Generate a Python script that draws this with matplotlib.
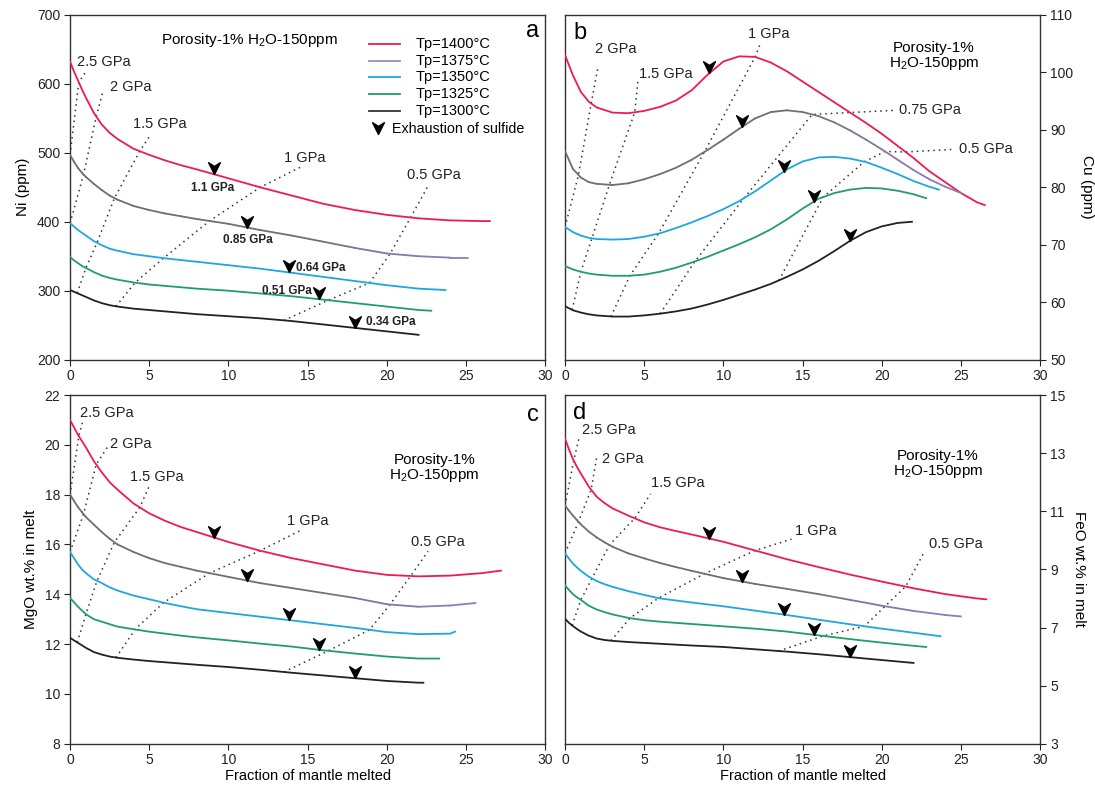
import numpy as np
import matplotlib
matplotlib.use("Agg")
import matplotlib.pyplot as plt
from matplotlib.path import Path
from matplotlib.collections import LineCollection
from matplotlib.colors import to_rgb

plt.rcParams['font.family'] = ['Liberation Sans', 'DejaVu Sans']
plt.rcParams['mathtext.default'] = 'regular'

## data --------------------------------------------------------------
TP_LABELS = ["Tp=1400°C", "Tp=1375°C", "Tp=1350°C", "Tp=1325°C", "Tp=1300°C"]

F_GRID = [0, 0.25, 0.5, 0.75, 1, 1.5, 2, 2.5, 3, 4, 5, 6, 7, 8, 10, 12, 14, 16, 18, 20, 22, 24, 26]
F_GRID_B = [0, 0.5, 1, 1.5, 2] + list(range(3, 27))

# Ni (ppm), panel a
NI = [
    [632, 618, 605, 592, 580, 558, 541, 529, 520, 506, 497, 489, 482, 476, 463, 450, 438, 426, 417, 410, 405, 402, 401],
    [497, 487, 478, 471, 465, 455, 446, 438, 432, 423, 417, 412, 408, 404, 397, 388, 380, 371, 362, 354, 350, 348],
    [398, 393, 388, 384, 380, 372, 366, 361, 358, 353, 350, 347, 344.5, 342, 337, 332, 326, 320, 314, 308, 303],
    [349, 344, 340, 336, 333, 327, 322, 318.5, 316, 312, 309, 307, 305, 303, 300, 296, 292, 287, 282, 277, 272],
    [301, 298.5, 296, 293.5, 291, 286, 282, 279, 277, 274, 272, 270, 268, 266, 263, 260, 256, 251, 246, 241],
]
NI_END = [(26.5, 401), (25.1, 348), (23.7, 301), (22.8, 271), (22.0, 236)]

# Cu (ppm), panel b
CU = [
    [103.0, 99.5, 96.6, 94.9, 93.9, 93.0, 92.9, 93.3, 94.0, 95.1, 96.9, 99.6, 101.9, 102.8, 102.7,
     101.7, 100.2, 98.4, 96.6, 94.8, 93.0, 91.2, 89.3, 87.2, 85.1, 82.8, 80.9, 79.0, 77.4],
    [86.3, 83.2, 81.7, 80.9, 80.6, 80.4, 80.7, 81.4, 82.3, 83.4, 84.8, 86.5, 88.3, 90.2, 92.0,
     93.1, 93.4, 93.1, 92.4, 91.3, 89.9, 88.3, 86.6, 84.8, 83.0, 81.4, 80.1],
    [73.1, 72.2, 71.6, 71.2, 71.0, 70.9, 71.0, 71.4, 72.0, 72.9, 73.9, 75.0, 76.2, 77.6, 79.3,
     81.2, 83.1, 84.5, 85.2, 85.3, 85.0, 84.4, 83.4, 82.3, 81.1, 80.1],
    [66.3, 65.7, 65.3, 65.0, 64.8, 64.6, 64.6, 64.8, 65.3, 66.0, 66.9, 67.9, 69.0, 70.1, 71.3,
     72.7, 74.4, 76.3, 78.0, 79.0, 79.6, 79.9, 79.8, 79.4, 78.8],
    [59.3, 58.6, 58.2, 57.9, 57.7, 57.5, 57.5, 57.7, 58.0, 58.4, 58.9, 59.6, 60.4, 61.3, 62.2,
     63.2, 64.4, 65.7, 67.2, 68.9, 70.7, 72.2, 73.2, 73.8],
]
CU_END = [(26.5, 76.9), (25.0, 79.0), (23.6, 79.6), (22.8, 78.1), (21.9, 74.0)]

# MgO wt.%, panel c
MGO = [
    [21.0, 20.7, 20.4, 20.15, 19.9, 19.35, 18.9, 18.5, 18.2, 17.65, 17.25, 16.95, 16.7, 16.5, 16.1,
     15.75, 15.45, 15.2, 14.95, 14.78, 14.72, 14.75, 14.85],
    [18.0, 17.75, 17.5, 17.3, 17.1, 16.8, 16.5, 16.23, 16.0, 15.7, 15.45, 15.25, 15.1, 14.95, 14.7,
     14.45, 14.25, 14.05, 13.85, 13.6, 13.5, 13.55],
    [15.7, 15.45, 15.2, 15.0, 14.85, 14.6, 14.45, 14.28, 14.15, 13.95, 13.8, 13.65, 13.52, 13.4, 13.25,
     13.1, 12.95, 12.8, 12.65, 12.48, 12.4, 12.42],
    [13.85, 13.68, 13.5, 13.35, 13.2, 13.0, 12.9, 12.8, 12.7, 12.6, 12.5, 12.42, 12.34, 12.27, 12.15,
     12.02, 11.9, 11.75, 11.62, 11.5, 11.42],
    [12.25, 12.15, 12.05, 11.95, 11.85, 11.68, 11.58, 11.5, 11.45, 11.38, 11.32, 11.27, 11.22, 11.17, 11.08,
     10.97, 10.85, 10.74, 10.63, 10.52, 10.45],
]
MGO_END = [(27.2, 14.95), (25.6, 13.65), (24.3, 12.5), (23.3, 11.42), (22.3, 10.45)]

# FeO wt.%, panel d
FEO = [
    [13.5, 13.13, 12.8, 12.53, 12.3, 11.85, 11.5, 11.28, 11.1, 10.85, 10.62, 10.45, 10.32, 10.2, 9.95,
     9.65, 9.35, 9.08, 8.82, 8.58, 8.35, 8.15, 8.0],
    [11.2, 11.02, 10.85, 10.7, 10.55, 10.3, 10.1, 9.93, 9.78, 9.55, 9.38, 9.22, 9.08, 8.95, 8.7,
     8.5, 8.33, 8.15, 7.95, 7.75, 7.57, 7.43],
    [9.55, 9.37, 9.2, 9.07, 8.95, 8.75, 8.6, 8.49, 8.4, 8.25, 8.12, 8.0, 7.93, 7.86, 7.73,
     7.58, 7.43, 7.27, 7.11, 6.96, 6.82],
    [8.45, 8.29, 8.15, 8.04, 7.95, 7.75, 7.62, 7.53, 7.45, 7.33, 7.25, 7.2, 7.16, 7.12, 7.04,
     6.96, 6.86, 6.73, 6.6, 6.48, 6.37],
    [7.3, 7.16, 7.05, 6.95, 6.86, 6.72, 6.62, 6.57, 6.54, 6.5, 6.47, 6.44, 6.41, 6.38, 6.33,
     6.25, 6.17, 6.08, 5.98, 5.88],
]
FEO_END = [(26.6, 7.97), (25.0, 7.38), (23.7, 6.7), (22.8, 6.33), (22.0, 5.78)]

# melt fraction where each Tp curve crosses an isobar (1400 -> 1300)
ISOBAR_F = {
    "2.5 GPa": [0.55, 0.0],
    "2 GPa": [1.65, 0.85, 0.0],
    "1.5 GPa": [4.4, 2.8, 1.7, 1.0, 0.45],
    "1 GPa": [12.0, 8.8, 5.9, 4.1, 2.9],
    "0.75 GPa": [None, 15.6, 11.3, 8.2, 6.0],
    "0.5 GPa": [21.5, 20.2, 18.9, 16.3, 13.5],
}
# exhaustion of sulfide
SULFIDE_F = [9.1, 11.2, 13.8, 15.7, 18.0]
SULFIDE_P = ["1.1 GPa", "0.85 GPa", "0.64 GPa", "0.51 GPa", "0.34 GPa"]

## style -------------------------------------------------------------
COLORS = ["#ec1c4b", None, "#1ea6e0", "#1f9d6c", "#222222"]
GRAY, PURPLE = "#6f6f6f", "#8c7cba"
ARROW = Path([(0, 0), (-0.5, 1.0), (0, 0.68), (0.5, 1.0), (0, 0)],
             [Path.MOVETO, Path.LINETO, Path.LINETO, Path.LINETO, Path.CLOSEPOLY])


def curve_xy(grid, vals, end):
    x = list(grid[:len(vals)]) + [end[0]]
    y = list(vals) + [end[1]]
    return np.array(x, float), np.array(y, float)


def draw_curves(ax, grid, data, ends):
    xy = []
    for i in range(5):
        x, y = curve_xy(grid, data[i], ends[i])
        xy.append((x, y))
        if i == 1:
            pts = np.column_stack([x, y])
            segs = np.stack([pts[:-1], pts[1:]], axis=1)
            t = np.clip((0.5 * (x[:-1] + x[1:]) - 14) / 9.0, 0, 1)
            c0, c1 = np.array(to_rgb(GRAY)), np.array(to_rgb(PURPLE))
            cols = [tuple(c0 * (1 - k) + c1 * k) for k in t]
            ax.add_collection(LineCollection(segs, colors=cols, linewidths=1.3, zorder=3,
                                             capstyle="round", joinstyle="round"))
        else:
            ax.plot(x, y, color=COLORS[i], lw=1.3, zorder=3, solid_joinstyle="round")
    return xy


def draw_isobars(ax, xy, tops):
    for name, fs in ISOBAR_F.items():
        if name not in tops:
            continue
        px, py = [], []
        for i in range(len(fs) - 1, -1, -1):
            if fs[i] is None:
                continue
            px.append(fs[i])
            py.append(np.interp(fs[i], xy[i][0], xy[i][1]))
        px.append(tops[name][0])
        py.append(tops[name][1])
        ax.plot(px, py, ls=(0, (1, 2.6)), lw=1.1, color="#333333", zorder=2)


def draw_sulfide(ax, xy):
    for i, f in enumerate(SULFIDE_F):
        y = np.interp(f, xy[i][0], xy[i][1])
        ax.plot([f], [y], ls="none", marker=ARROW, ms=17, color="k", zorder=5)


def style_axis(ax, ylim, yticks, right=False):
    ax.set_xlim(0, 30)
    ax.set_ylim(*ylim)
    ax.set_xticks(range(0, 31, 5))
    ax.set_yticks(yticks)
    ax.tick_params(direction="out", length=4.5, width=0.8, labelsize=10, colors="#222222", pad=2.5)
    for s in ax.spines.values():
        s.set_linewidth(1.0)
        s.set_color("#333333")
    if right:
        ax.yaxis.tick_right()
        ax.yaxis.set_label_position("right")


fig = plt.figure(figsize=(10.95, 7.87), dpi=100)
ax_a = fig.add_axes([0.064, 0.543, 0.434, 0.438])
ax_b = fig.add_axes([0.516, 0.543, 0.434, 0.438])
ax_c = fig.add_axes([0.064, 0.055, 0.434, 0.443])
ax_d = fig.add_axes([0.516, 0.055, 0.434, 0.443])

gpa_fs = 10.5
iso_kw = dict(fontsize=gpa_fs, va="center", ha="left", color="#222222")
por_fs = 11
lab_fs = 11

## a: Ni
xy = draw_curves(ax_a, F_GRID, NI, NI_END)
draw_isobars(ax_a, xy, {"2.5 GPa": (1.0, 618), "2 GPa": (2.1, 591), "1.5 GPa": (5.1, 527),
                        "1 GPa": (14.7, 481), "0.5 GPa": (22.6, 452)})
draw_sulfide(ax_a, xy)
for name, (x, y) in {"2.5 GPa": (0.45, 632), "2 GPa": (2.5, 596), "1.5 GPa": (4.0, 542),
                     "1 GPa": (13.5, 493), "0.5 GPa": (21.3, 468)}.items():
    ax_a.text(x, y, name, **iso_kw)
bold_kw = dict(fontsize=8.5, fontweight="bold", va="center", color="#222222")
ax_a.text(9.0, 449, SULFIDE_P[0], ha="center", **bold_kw)
ax_a.text(11.2, 373, SULFIDE_P[1], ha="center", **bold_kw)
ax_a.text(14.25, 333, SULFIDE_P[2], ha="left", **bold_kw)
ax_a.text(15.25, 300, SULFIDE_P[3], ha="right", **bold_kw)
ax_a.text(18.65, 255, SULFIDE_P[4], ha="left", **bold_kw)
ax_a.text(11.3, 664, "Porosity-1% H$_2$O-150ppm", fontsize=por_fs, ha="center", va="center")
ax_a.text(29.6, 676, "a", fontsize=17, ha="right", va="center")
# legend
leg_cols = ["#ec1c4b", "#9a8cc4", "#1ea6e0", "#1f9d6c", "#333333"]
for k, (lab, col) in enumerate(zip(TP_LABELS, leg_cols)):
    yy = 0.916 - k * 0.0485
    ax_a.plot([0.63, 0.695], [yy, yy], color=col, lw=1.3, transform=ax_a.transAxes)
    ax_a.text(0.727, yy, lab, fontsize=10.5, va="center", transform=ax_a.transAxes)
ax_a.plot([0.647], [0.656], ls="none", marker=ARROW, ms=17, color="k", transform=ax_a.transAxes)
ax_a.text(0.677, 0.668, "Exhaustion of sulfide", fontsize=10.3, va="center", transform=ax_a.transAxes)
style_axis(ax_a, (200, 700), range(200, 701, 100))
ax_a.set_ylabel("Ni (ppm)", fontsize=lab_fs, labelpad=5)

## b: Cu
xy = draw_curves(ax_b, F_GRID_B, CU, CU_END)
draw_isobars(ax_b, xy, {"2 GPa": (2.1, 101.2), "1.5 GPa": (4.6, 98.4), "1 GPa": (12.3, 104.8),
                        "0.75 GPa": (20.8, 93.4), "0.5 GPa": (24.5, 86.6)})
draw_sulfide(ax_b, xy)
for name, (x, y) in {"2 GPa": (1.9, 104.0), "1.5 GPa": (4.67, 99.8), "1 GPa": (11.55, 106.6),
                     "0.75 GPa": (21.1, 93.5), "0.5 GPa": (24.9, 86.6)}.items():
    ax_b.text(x, y, name, **iso_kw)
ax_b.text(23.3, 102.7, "Porosity-1%\nH$_2$O-150ppm", fontsize=por_fs, ha="center", va="center",
          linespacing=1.0)
ax_b.text(0.5, 106.9, "b", fontsize=17, ha="left", va="center")
style_axis(ax_b, (50, 110), range(50, 111, 10), right=True)
ax_b.set_ylabel("Cu (ppm)", fontsize=lab_fs, rotation=270, labelpad=15)

## c: MgO
xy = draw_curves(ax_c, F_GRID, MGO, MGO_END)
draw_isobars(ax_c, xy, {"2.5 GPa": (0.78, 20.9), "2 GPa": (2.35, 19.9), "1.5 GPa": (5.0, 18.35),
                        "1 GPa": (14.5, 16.55), "0.5 GPa": (22.6, 15.73)})
draw_sulfide(ax_c, xy)
for name, (x, y) in {"2.5 GPa": (0.6, 21.3), "2 GPa": (2.5, 20.05), "1.5 GPa": (3.8, 18.7),
                     "1 GPa": (13.7, 16.96), "0.5 GPa": (21.5, 16.1)}.items():
    ax_c.text(x, y, name, **iso_kw)
ax_c.text(23.0, 19.05, "Porosity-1%\nH$_2$O-150ppm", fontsize=por_fs, ha="center", va="center",
          linespacing=1.0)
ax_c.text(29.6, 21.2, "c", fontsize=17, ha="right", va="center")
style_axis(ax_c, (8, 22), range(8, 23, 2))
ax_c.set_ylabel("MgO wt.% in melt", fontsize=lab_fs, labelpad=5)
ax_c.set_xlabel("Fraction of mantle melted", fontsize=10.5, labelpad=1)

## d: FeO
xy = draw_curves(ax_d, F_GRID, FEO, FEO_END)
draw_isobars(ax_d, xy, {"2.5 GPa": (0.9, 13.56), "2 GPa": (2.0, 12.86), "1.5 GPa": (5.4, 11.6),
                        "1 GPa": (14.3, 10.04), "0.5 GPa": (22.7, 9.62)})
draw_sulfide(ax_d, xy)
for name, (x, y) in {"2.5 GPa": (1.1, 13.8), "2 GPa": (2.33, 12.8), "1.5 GPa": (5.44, 11.98),
                     "1 GPa": (14.5, 10.33), "0.5 GPa": (23.0, 9.86)}.items():
    ax_d.text(x, y, name, **iso_kw)
ax_d.text(23.55, 12.6, "Porosity-1%\nH$_2$O-150ppm", fontsize=por_fs, ha="center", va="center",
          linespacing=1.0)
ax_d.text(0.5, 14.4, "d", fontsize=17, ha="left", va="center")
style_axis(ax_d, (3, 15), range(3, 16, 2), right=True)
ax_d.set_ylabel("FeO wt.% in melt", fontsize=lab_fs, rotation=270, labelpad=15)
ax_d.set_xlabel("Fraction of mantle melted", fontsize=10.5, labelpad=1)

fig.savefig("out.png", dpi=100)
